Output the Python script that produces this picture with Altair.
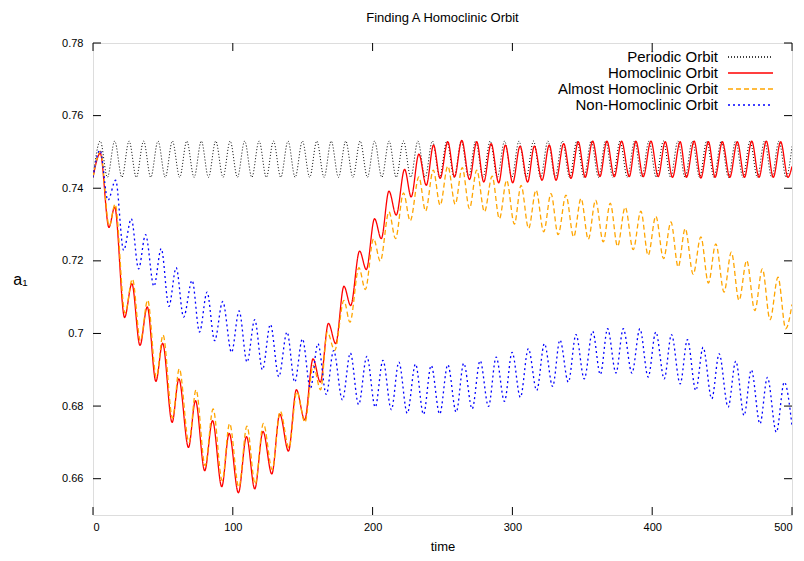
import altair as alt
import pandas as pd

TITLE = "Finding A Homoclinic Orbit"
SERIES = ["Periodic Orbit", "Homoclinic Orbit", "Almost Homoclinic Orbit", "Non-Homoclinic Orbit"]
COLORS = ["#000000", "#ff0000", "#ffa500", "#0000ff"]
DASHES = [[1, 2], [1, 0], [5, 3], [2, 3]]
WIDTHS = [1.0, 1.3, 1.3, 1.3]
XTICKS = [0, 100, 200, 300, 400, 500]
YTICKS = [0.66, 0.68, 0.70, 0.72, 0.74, 0.76, 0.78]

# extrema (time, a1)
PERIODIC = [
    (0, 0.743), (5.2, 0.753), (10.3, 0.743), (15.5, 0.753), (20.7, 0.743), (25.8, 0.753),
    (31.0, 0.743), (36.2, 0.753), (41.3, 0.743), (46.5, 0.753), (51.7, 0.743), (56.8, 0.753),
    (62.0, 0.743), (67.1, 0.753), (72.3, 0.743), (77.5, 0.753), (82.6, 0.743), (87.8, 0.753),
    (93.0, 0.743), (98.1, 0.753), (103.3, 0.743), (108.5, 0.753), (113.6, 0.743), (118.8, 0.753),
    (124.0, 0.743), (129.1, 0.753), (134.3, 0.743), (139.5, 0.753), (144.6, 0.743), (149.8, 0.753),
    (155.0, 0.743), (160.1, 0.753), (165.3, 0.743), (170.4, 0.753), (175.6, 0.743), (180.8, 0.753),
    (185.9, 0.743), (191.1, 0.753), (196.3, 0.743), (201.4, 0.753), (206.6, 0.743), (211.8, 0.753),
    (216.9, 0.743), (222.1, 0.753), (227.3, 0.743), (232.4, 0.753), (237.6, 0.743), (242.8, 0.753),
    (247.9, 0.743), (253.1, 0.753), (258.3, 0.743), (263.4, 0.753), (268.6, 0.743), (273.7, 0.753),
    (278.9, 0.743), (284.1, 0.753), (289.2, 0.743), (294.4, 0.753), (299.6, 0.743), (304.7, 0.753),
    (309.9, 0.743), (315.1, 0.753), (320.2, 0.743), (325.4, 0.753), (330.6, 0.743), (335.7, 0.753),
    (340.9, 0.743), (346.1, 0.753), (351.2, 0.743), (356.4, 0.753), (361.6, 0.743), (366.7, 0.753),
    (371.9, 0.743), (377.0, 0.753), (382.2, 0.743), (387.4, 0.753), (392.5, 0.743), (397.7, 0.753),
    (402.9, 0.743), (408.0, 0.753), (413.2, 0.743), (418.4, 0.753), (423.5, 0.743), (428.7, 0.753),
    (433.9, 0.743), (439.0, 0.753), (444.2, 0.743), (449.4, 0.753), (454.5, 0.743), (459.7, 0.753),
    (464.9, 0.743), (470.0, 0.753), (475.2, 0.743), (480.3, 0.753), (485.5, 0.743), (490.7, 0.753),
    (495.8, 0.743), (500, 0.7515),
]

HOMOCLINIC = [
    (0, 0.743), (5.2, 0.7496), (11.4, 0.7292), (15.5, 0.7348), (22.6, 0.7044), (27.8, 0.7137),
    (33.6, 0.6967), (38.8, 0.7073), (45.0, 0.6868), (49.8, 0.6973), (56.6, 0.6755), (61.4, 0.6875),
    (68.3, 0.6686), (73.3, 0.6815), (79.9, 0.6622), (85.5, 0.6760), (92.1, 0.6578), (97.4, 0.6725),
    (104.0, 0.6561), (109.8, 0.6716), (115.7, 0.6572), (121.6, 0.6730), (127.9, 0.6613), (133.6, 0.6778),
    (139.8, 0.6676), (145.5, 0.6845), (151.4, 0.6762), (157.4, 0.6930), (162.6, 0.6866), (168.4, 0.7028),
    (173.6, 0.6972), (179.5, 0.7130), (184.3, 0.7077), (190.7, 0.7227), (195.5, 0.7176), (201.4, 0.7316),
    (206.2, 0.7261), (211.7, 0.7392), (216.9, 0.7326), (222.9, 0.7452), (227.6, 0.7376), (233.1, 0.7494),
    (238.4, 0.7408), (243.6, 0.7519), (248.3, 0.7427), (253.8, 0.7528), (258.6, 0.7431), (263.8, 0.7532),
    (269.3, 0.7424), (274.5, 0.7528), (279.5, 0.7417), (284.8, 0.7523), (290.2, 0.7415), (295.0, 0.7519),
    (300.2, 0.7415), (305.5, 0.7516), (310.9, 0.7417), (315.7, 0.7516), (321.2, 0.7422), (326.4, 0.7519),
    (331.2, 0.7422), (336.7, 0.7523), (341.9, 0.7427), (347.1, 0.7528), (352.1, 0.7430), (357.4, 0.7530),
    (362.6, 0.7432), (367.6, 0.7530), (372.9, 0.7432), (378.1, 0.7530), (383.6, 0.7432), (388.3, 0.7530),
    (393.6, 0.7432), (399.1, 0.7530), (404.3, 0.7432), (409.3, 0.7528), (414.5, 0.7430), (420.0, 0.7528),
    (424.5, 0.7430), (430.0, 0.7530), (434.8, 0.7428), (440.2, 0.7528), (445.0, 0.7430), (450.2, 0.7528),
    (455.5, 0.7430), (460.9, 0.7528), (466.0, 0.7430), (471.2, 0.7530), (476.4, 0.7430), (481.6, 0.7530),
    (486.6, 0.7430), (491.9, 0.7528), (497.1, 0.7430), (500, 0.7460),
]

ALMOST = [
    (0, 0.743), (5.3, 0.7502), (11.6, 0.7296), (15.8, 0.7356), (22.9, 0.7056), (28.2, 0.7150),
    (33.9, 0.6980), (39.1, 0.7092), (45.3, 0.6880), (50.1, 0.6996), (56.9, 0.6767), (61.7, 0.6903),
    (68.6, 0.6700), (73.7, 0.6845), (80.2, 0.6636), (85.9, 0.6792), (92.4, 0.6595), (97.7, 0.6752),
    (104.3, 0.6577), (110.1, 0.6745), (116.0, 0.6585), (121.9, 0.6752), (128.2, 0.6625), (133.9, 0.6786),
    (140.2, 0.6685), (145.8, 0.6840), (151.6, 0.6755), (157.5, 0.6912), (162.8, 0.6845), (167.6, 0.7004),
    (172.9, 0.6953), (179.5, 0.7091), (183.8, 0.7031), (190.2, 0.7181), (194.8, 0.7121), (200.7, 0.7261),
    (205.5, 0.7199), (211.7, 0.7335), (216.4, 0.7261), (222.1, 0.7387), (226.9, 0.7310), (233.1, 0.7431),
    (237.9, 0.7337), (243.4, 0.7450), (248.3, 0.7353), (253.8, 0.7461), (259.1, 0.7356), (264.1, 0.7457),
    (269.3, 0.7344), (274.5, 0.7450), (280.0, 0.7335), (285.5, 0.7433), (290.7, 0.7316), (295.9, 0.7422),
    (301.4, 0.7301), (306.2, 0.7408), (311.6, 0.7289), (316.9, 0.7395), (322.4, 0.7280), (327.6, 0.7385),
    (332.7, 0.7272), (338.3, 0.7381), (343.8, 0.7266), (349.1, 0.7372), (354.3, 0.7259), (359.5, 0.7367),
    (365.0, 0.7252), (370.0, 0.7359), (375.2, 0.7240), (380.7, 0.7348), (386.4, 0.7231), (391.9, 0.7337),
    (397.1, 0.7215), (402.6, 0.7323), (408.1, 0.7206), (413.4, 0.7307), (418.6, 0.7183), (423.6, 0.7289),
    (429.3, 0.7163), (434.8, 0.7266), (440.2, 0.7139), (445.5, 0.7247), (451.4, 0.7114), (456.6, 0.7224),
    (462.1, 0.7091), (467.6, 0.7201), (473.4, 0.7063), (478.8, 0.7178), (484.3, 0.7038), (490.0, 0.7155),
    (495.5, 0.7013), (500, 0.7080),
]

NON_HOMOCLINIC = [
    (0, 0.743), (5.0, 0.7505), (10.7, 0.7367), (16.2, 0.7422), (21.9, 0.7229), (27.4, 0.7316),
    (32.6, 0.7178), (37.6, 0.7272), (43.6, 0.7130), (48.8, 0.7234), (54.3, 0.7075), (59.5, 0.7181),
    (64.8, 0.7045), (70.9, 0.7146), (76.2, 0.7004), (81.6, 0.7114), (87.0, 0.6980), (92.8, 0.7088),
    (99.1, 0.6948), (104.5, 0.7062), (110.2, 0.6921), (115.7, 0.7038), (121.2, 0.6900), (126.9, 0.7025),
    (132.9, 0.6881), (138.8, 0.7004), (144.3, 0.6866), (149.8, 0.6985), (155.5, 0.6848), (160.9, 0.6972),
    (166.9, 0.6832), (172.1, 0.6953), (178.4, 0.6817), (184.1, 0.6946), (190.0, 0.6804), (195.9, 0.6937),
    (201.9, 0.6797), (207.4, 0.6926), (213.4, 0.6790), (218.8, 0.6921), (224.8, 0.6780), (230.7, 0.6916),
    (236.4, 0.6777), (241.9, 0.6912), (248.0, 0.6778), (253.8, 0.6914), (259.8, 0.6783), (265.2, 0.6918),
    (271.2, 0.6792), (276.9, 0.6925), (282.9, 0.6799), (288.4, 0.6935), (294.3, 0.6813), (299.8, 0.6948),
    (305.7, 0.6824), (311.4, 0.6958), (317.4, 0.6843), (322.9, 0.6972), (328.8, 0.6854), (334.0, 0.6982),
    (340.0, 0.6866), (345.5, 0.6997), (351.4, 0.6875), (357.4, 0.7006), (362.9, 0.6887), (368.1, 0.7013),
    (374.1, 0.6891), (379.3, 0.7013), (385.5, 0.6891), (391.2, 0.7013), (397.1, 0.6880), (402.6, 0.7004),
    (408.6, 0.6875), (413.8, 0.6997), (420.0, 0.6861), (425.2, 0.6983), (431.2, 0.6843), (436.4, 0.6962),
    (442.6, 0.6820), (447.9, 0.6944), (454.3, 0.6797), (459.8, 0.6924), (465.7, 0.6774), (470.9, 0.6900),
    (477.1, 0.6751), (482.4, 0.6879), (488.8, 0.6728), (494.5, 0.6866), (500, 0.6746),
]

W, H = 699, 472
FONT = "Liberation Sans"

rows = []
for name, pts in zip(SERIES, [PERIODIC, HOMOCLINIC, ALMOST, NON_HOMOCLINIC]):
    for t, v in pts:
        rows.append({"series": name, "t": t, "v": v})
df = pd.DataFrame(rows)

xscale = alt.Scale(domain=[0, 500], nice=False)
yscale = alt.Scale(domain=[0.65, 0.78], nice=False, zero=False)
cscale = alt.Scale(domain=SERIES, range=COLORS)
dscale = alt.Scale(domain=SERIES, range=DASHES)

xaxis = alt.Axis(
    values=XTICKS, title="time", ticks=False, domain=False, grid=False,
    labelFont=FONT, labelFontSize=11, labelColor="#000", labelPadding=6,
    titleFont=FONT, titleFontSize=13, titleFontWeight="normal", titleColor="#000",
    titleY=31, titleBaseline="middle")
yaxis = alt.Axis(
    values=YTICKS, format=".2~f", title="a₁", ticks=False, domain=False, grid=False,
    labelFont=FONT, labelFontSize=11, labelColor="#000", labelPadding=10,
    titleFont=FONT, titleFontSize=16, titleFontWeight="normal", titleColor="#000",
    titleAngle=0, titleX=-73, titleY=236, titleAlign="center", titleBaseline="middle")

layers = []
for i, (name, w) in enumerate(zip(SERIES, WIDTHS)):
    yenc = alt.Y("v:Q", scale=yscale, axis=yaxis if i == 0 else None)
    layers.append(
        alt.Chart(df).transform_filter(alt.datum.series == name)
        .mark_line(interpolate="monotone", strokeWidth=w, clip=True)
        .encode(
            x=alt.X("t:Q", scale=xscale, axis=xaxis), y=yenc,
            color=alt.Color("series:N", scale=cscale, legend=None),
            strokeDash=alt.StrokeDash("series:N", scale=dscale, legend=None),
        )
    )

# inward tick marks on all four sides
xt = pd.DataFrame({"t": XTICKS})
yt = pd.DataFrame({"v": YTICKS})
tick_style = dict(color="#000", strokeWidth=1)
layers.append(alt.Chart(xt).mark_rule(**tick_style).encode(
    x=alt.X("t:Q", scale=xscale, axis=xaxis), y=alt.value(H), y2=alt.value(H - 8)))
layers.append(alt.Chart(xt).mark_rule(**tick_style).encode(
    x=alt.X("t:Q", scale=xscale, axis=xaxis), y=alt.value(0), y2=alt.value(8)))
layers.append(alt.Chart(yt).mark_rule(**tick_style).encode(
    y=alt.Y("v:Q", scale=yscale, axis=None), x=alt.value(0), x2=alt.value(8)))
layers.append(alt.Chart(yt).mark_rule(**tick_style).encode(
    y=alt.Y("v:Q", scale=yscale, axis=None), x=alt.value(W), x2=alt.value(W - 8)))

# key, top right inside the plot
leg = pd.DataFrame({"series": SERIES, "row": [0, 1, 2, 3]})
rowscale = alt.Scale(domain=[0, 3], range=[14, 62])
layers.append(alt.Chart(leg).mark_text(align="right", baseline="middle", font=FONT,
                                       fontSize=15, color="#000").encode(
    y=alt.Y("row:Q", scale=rowscale, axis=None), x=alt.value(625), text="series:N"))
layers.append(alt.Chart(leg).mark_rule(strokeWidth=1.3).encode(
    y=alt.Y("row:Q", scale=rowscale, axis=None), x=alt.value(635), x2=alt.value(680),
    color=alt.Color("series:N", scale=cscale, legend=None),
    strokeDash=alt.StrokeDash("series:N", scale=dscale, legend=None)))

chart = alt.layer(*layers).resolve_scale(y="independent").properties(
    width=W, height=H,
    title=alt.TitleParams(TITLE, font=FONT, fontSize=13, fontWeight="normal",
                          color="#000", anchor="middle", offset=12),
    autosize=alt.AutoSizeParams(type="none"),
    padding={"left": 85, "top": 35, "right": 4, "bottom": 38},
).configure_view(stroke="#000", strokeWidth=1).configure(background="white")

chart.save("out.html", embed_options={"renderer": "svg", "actions": False})
